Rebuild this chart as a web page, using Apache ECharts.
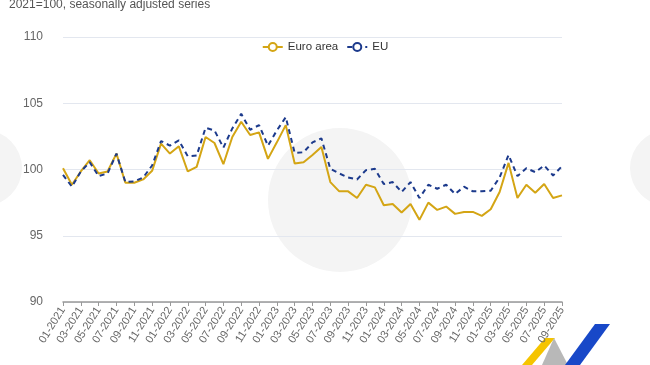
<!DOCTYPE html>
<html><head><meta charset="utf-8">
<script src="https://cdn.jsdelivr.net/npm/echarts@6/dist/echarts.min.js"></script>
<style>html,body{margin:0;padding:0;background:#fff}#c{width:650px;height:365px}</style>
</head><body><div id="c"></div>
<script>
const months = [];
for (let y = 2021; y <= 2025; y++) for (let m = 1; m <= 12; m++) { if (y === 2025 && m > 9) break; months.push((m < 10 ? '0' : '') + m + '-' + y); }
const euroArea = [100.1,98.85,99.85,100.7,99.7,99.85,101.2,99.0,99.0,99.25,99.9,101.95,101.2,101.75,99.85,100.2,102.45,102.0,100.4,102.45,103.6,102.6,102.8,100.8,102.05,103.35,100.45,100.55,101.1,101.7,99.05,98.35,98.35,97.85,98.85,98.65,97.3,97.4,96.75,97.4,96.2,97.5,96.95,97.2,96.65,96.8,96.8,96.5,97.0,98.3,100.5,97.85,98.85,98.25,98.9,97.85,98.05];
const eu = [99.6,98.7,99.85,100.55,99.5,99.7,101.2,99.05,99.1,99.4,100.3,102.15,101.8,102.2,101.0,101.05,103.15,102.95,101.65,103.1,104.2,103.0,103.35,101.8,102.95,103.95,101.25,101.3,102.05,102.35,100.05,99.7,99.4,99.25,99.95,100.05,98.9,99.05,98.3,99.05,97.85,98.85,98.55,98.85,98.15,98.7,98.35,98.35,98.4,99.4,101.1,99.5,100.1,99.8,100.3,99.55,100.25];
const yTicks = {min: 90, max: 110, interval: 5};
const subtitle = '2021=100, seasonally adjusted series';
const seriesNames = ['Euro area', 'EU'];

const chart = echarts.init(document.getElementById('c'));
chart.setOption({
  animation: false,
  title: {text: subtitle, left: 4, top: -6, textStyle: {fontSize: 12, fontWeight: 'normal', color: '#555', fontFamily: 'Liberation Sans, Arial'}},
  legend: {top: 36, left: 'center', itemGap: 8, itemWidth: 20, itemHeight: 10,
    textStyle: {fontSize: 11.5, color: '#333', fontFamily: 'Liberation Sans, Arial'}, data: seriesNames},
  graphic: [
    {type: 'circle', shape: {cx: 340, cy: 200, r: 72}, style: {fill: '#f4f4f4'}, z: -1},
    {type: 'circle', shape: {cx: -16, cy: 168, r: 38}, style: {fill: '#f4f4f4'}, z: -1},
    {type: 'circle', shape: {cx: 668, cy: 168, r: 38}, style: {fill: '#f4f4f4'}, z: -1},
    {type: 'polygon', shape: {points: [[522,365],[545,338],[555,338],[532,365]]}, style: {fill: '#f5c400'}},
    {type: 'polygon', shape: {points: [[542,365],[554,338],[568,365]]}, style: {fill: '#b8b8b8'}},
    {type: 'polygon', shape: {points: [[565,365],[595,324],[610,324],[580,365]]}, style: {fill: '#1848c8'}}
  ],
  grid: {left: 63, right: 88, top: 37, bottom: 63},
  xAxis: {type: 'category', data: months, boundaryGap: false,
    axisLine: {lineStyle: {color: '#999', width: 1.5}},
    axisTick: {interval: 1, length: 4, lineStyle: {color: '#999'}},
    axisLabel: {interval: 1, rotate: 58, fontSize: 11, color: '#666', margin: 6, fontFamily: 'Liberation Sans, Arial'}},
  yAxis: {type: 'value', min: yTicks.min, max: yTicks.max, interval: yTicks.interval,
    axisLine: {show: false}, axisTick: {show: false},
    axisLabel: {fontSize: 12, color: '#666', margin: 20, fontFamily: 'Liberation Sans, Arial'},
    splitLine: {lineStyle: {color: '#e3e7ef'}}},
  series: [
    {name: seriesNames[0], type: 'line', data: euroArea, symbol: 'emptyCircle', symbolSize: 8, showSymbol: false,
      itemStyle: {color: '#d4a514'}, lineStyle: {color: '#d4a514', width: 2}},
    {name: seriesNames[1], type: 'line', data: eu, symbol: 'emptyCircle', symbolSize: 8, showSymbol: false,
      itemStyle: {color: '#1c3a8c'}, lineStyle: {color: '#1c3a8c', width: 2, type: [5, 4]}}
  ]
});
</script></body></html>
